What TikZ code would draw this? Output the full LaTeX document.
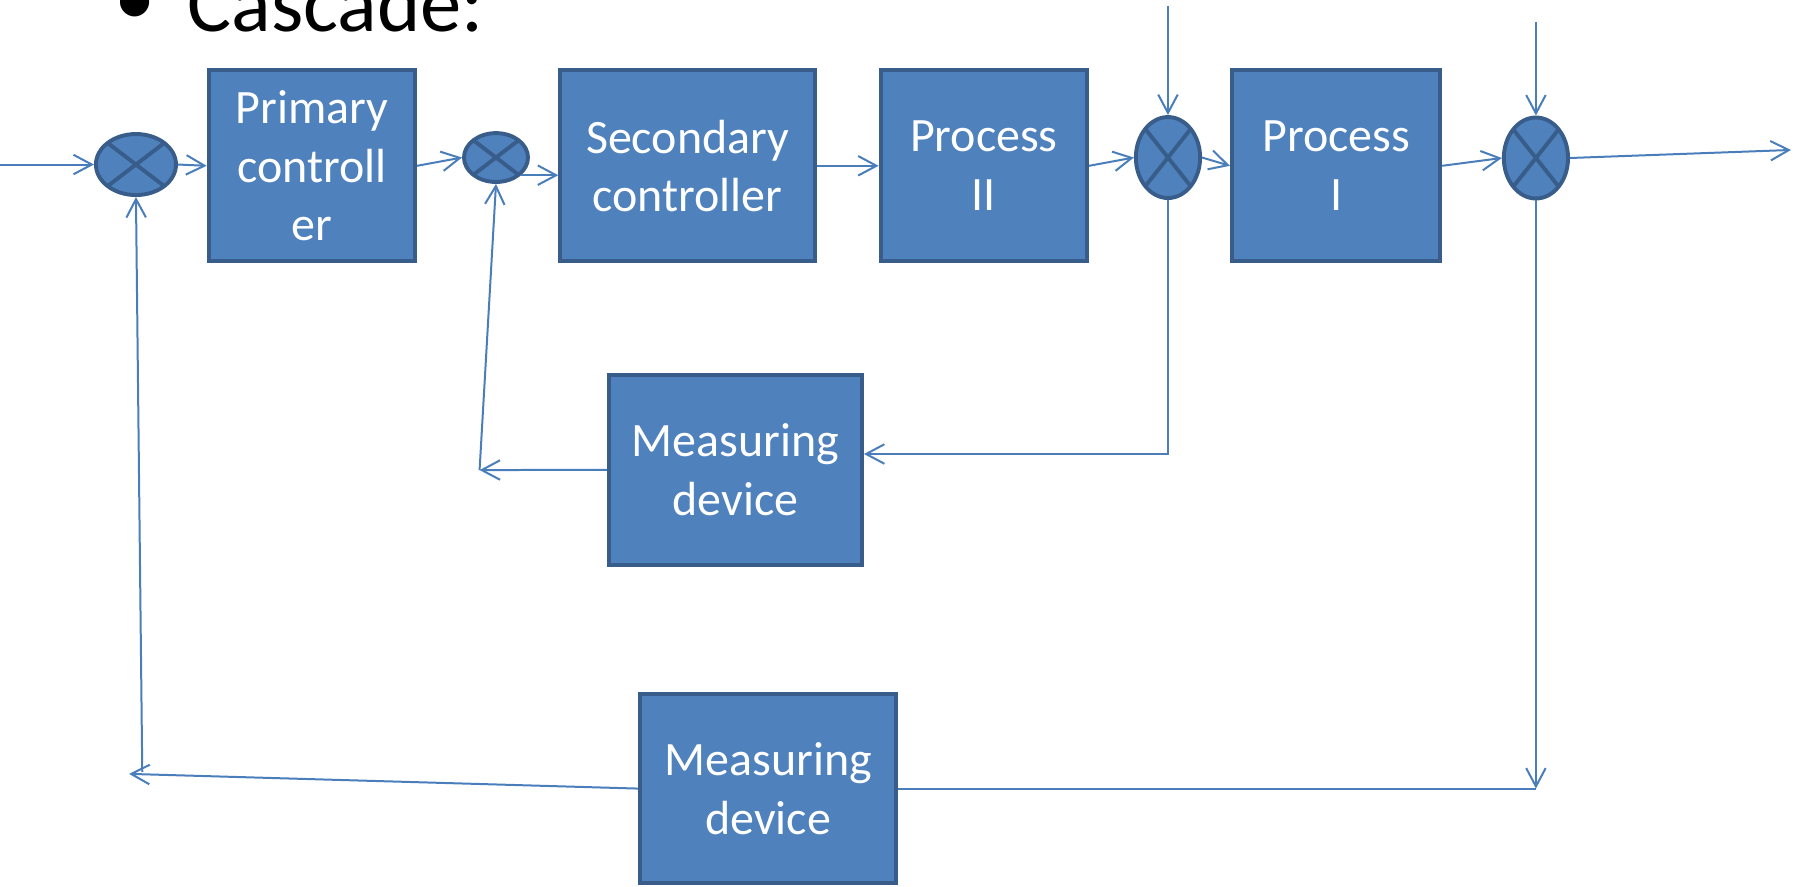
\documentclass[tikz,border=0pt]{standalone}
\usepackage{fontspec}
\setmainfont{Carlito}
\usetikzlibrary{arrows.meta,shapes.geometric,calc}
\definecolor{boxfill}{HTML}{4F81BD}
\definecolor{boxline}{HTML}{385D8A}
\definecolor{linecol}{HTML}{4A7EBB}
\begin{document}
\begin{tikzpicture}[x=0.5pt,y=-0.5pt,
  blk/.style={rectangle, fill=boxfill, draw=boxline, line width=1.7pt, text=white,
    align=center, inner sep=0pt, font=\fontsize{20.9}{25.5}\selectfont},
  sumj/.style={ellipse, fill=boxfill, draw=boxline, line width=1.7pt, inner sep=0pt,
    path picture={\draw[line width=1.7pt, draw=boxline]
      ($(path picture bounding box.center)!0.7071!(path picture bounding box.north east)$) --
      ($(path picture bounding box.center)!0.7071!(path picture bounding box.south west)$)
      ($(path picture bounding box.center)!0.7071!(path picture bounding box.north west)$) --
      ($(path picture bounding box.center)!0.7071!(path picture bounding box.south east)$);}},
  conn/.style={draw=linecol, line width=0.87pt, -{Straight Barb[length=8pt,width=8.5pt]}},
  plainln/.style={draw=linecol, line width=0.87pt},
  ttl/.style={font=\fontsize{36}{43}\selectfont, inner sep=0pt, text=black}
]
\useasboundingbox (0,0) rectangle (1568,773);

% title
\node[ttl, anchor=base] (bul) at (118,22) {•};
\node[ttl, anchor=base west] (cas) at (163,27.6) {Cascade:};

% blocks
\node[blk, minimum width=90pt, minimum height=83.3pt] (prim) at (271.8,144.5) {Primary\\controll\\er};
\node[blk, minimum width=111pt, minimum height=83.3pt] (sec) at (599.3,144.5) {Secondary\\controller};
\node[blk, minimum width=90pt, minimum height=83.3pt] (p2) at (857.5,144.5) {Process\\II};
\node[blk, minimum width=90.8pt, minimum height=83.3pt] (p1) at (1164.5,144.5) {Process\\I};
\node[blk, minimum width=110.3pt, minimum height=82.8pt] (md1) at (641,409.5) {Measuring\\device};
\node[blk, minimum width=111.8pt, minimum height=82.5pt] (md2) at (669.5,687.3) {Measuring\\device};

% summing junctions
\node[sumj, minimum width=34.9pt, minimum height=26.6pt] (s1) at (118.5,143.4) {};
\node[sumj, minimum width=27.9pt, minimum height=21.3pt] (s2) at (432.3,137.3) {};
\node[sumj, minimum width=28pt, minimum height=35.3pt] (s3) at (1018,137.3) {};
\node[sumj, minimum width=28pt, minimum height=35.3pt] (s4) at (1338.7,137.7) {};

% free ends
\coordinate (in) at (0,143.4);
\coordinate (d1) at (1018,5);
\coordinate (d2) at (1338.7,19);
\coordinate (out) at (1561,130.7);
\coordinate (fb2) at (418,409.7);
\coordinate (fb1a) at (112.5,674.5);
\coordinate (fb1b) at (124,673);
\coordinate (c4) at (s4.south |- md2.east);

% forward path
\draw[conn] (in) -- (s1.west);
\draw[conn] (s1.east) -- (prim.west);
\draw[conn] (prim.east) -- (s2.west);
\draw[conn] (s2.-35) -- (s2.-35 -| sec.west);
\draw[conn] (sec.east) -- (p2.west);
\draw[conn] (p2.east) -- (s3.west);
\draw[conn] (s3.east) -- (p1.west);
\draw[conn] (p1.east) -- (s4.west);
\draw[conn] (s4.east) -- (out);
\draw[conn] (d1) -- (s3.north);
\draw[conn] (d2) -- (s4.north);

% inner loop
\draw[conn] (s3.south) |- ([yshift=6.9pt]md1.east);
\draw[conn] (md1.west) -- (fb2);
\draw[conn] (fb2) -- (s2.south);

% outer loop
\draw[conn] (s4.south) -- (c4);
\draw[plainln] (c4) -- (md2.east);
\draw[conn] (md2.west) -- (fb1a);
\draw[conn] (fb1b) -- (s1.south);
\end{tikzpicture}
\end{document}
